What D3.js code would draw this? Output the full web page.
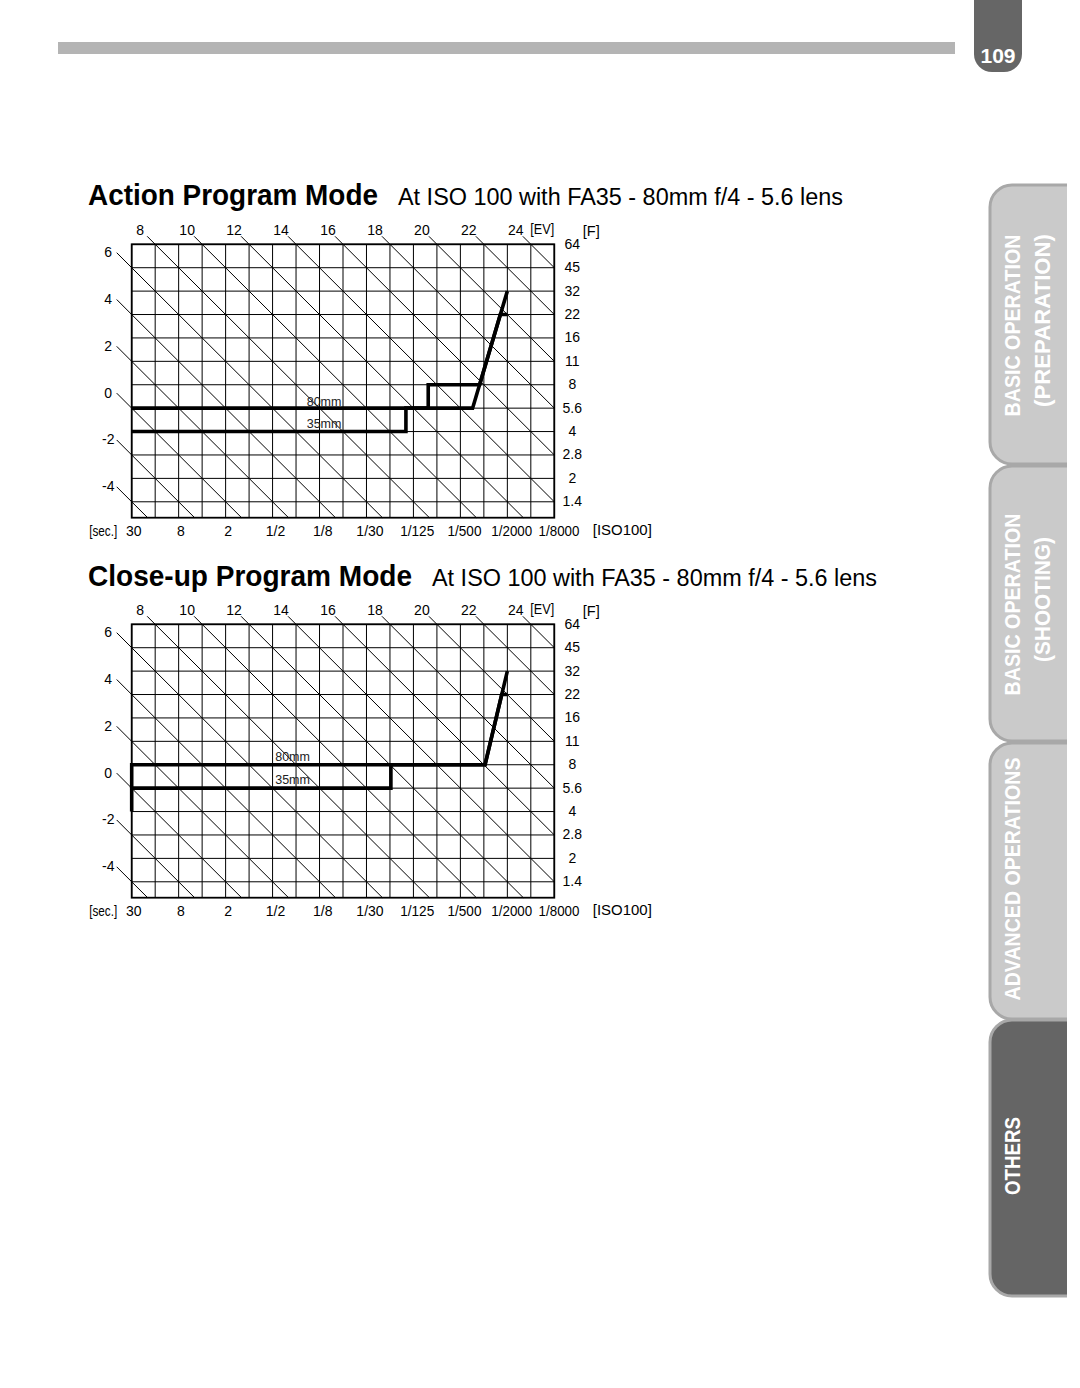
<!DOCTYPE html>
<html>
<head>
<meta charset="utf-8">
<script src="https://cdn.jsdelivr.net/npm/d3@7/dist/d3.min.js"></script>
<style>
  body { margin: 0; background: #fff; }
  svg { display: block; }
</style>
</head>
<body>
<div id="container"></div>
<script>
/* Page */
const pageW = 1080, pageH = 1388;
const fontPolice = "Liberation Sans, Arial, Helvetica, sans-serif";

/* EV labels on the top and left edges, and the EV diagonals that are drawn */
const evTopTicks = [8, 10, 12, 14, 16, 18, 20, 22, 24];
const evLeftTicks = [6, 4, 2, 0, -2, -4];
const evLines = [-4, -2, 0, 2, 4, 6, 8, 10, 12, 14, 16, 18, 20, 22, 24];

/* Aperture (Av) rows and their f-numbers */
const avValues = [12, 11, 10, 9, 8, 7, 6, 5, 4, 3, 2, 1];
const fLabels = ["64", "45", "32", "22", "16", "11", "8", "5.6", "4", "2.8", "2", "1.4"];

/* Shutter speed (Tv) columns and their labels */
const tvGrid = [-5, -4, -3, -2, -1, 0, 1, 2, 3, 4, 5, 6, 7, 8, 9, 10, 11, 12, 13];
const tvValues = [-5, -3, -1, 1, 3, 5, 7, 9, 11, 13];
const secLabels = ["30", "8", "2", "1/2", "1/8", "1/30", "1/125", "1/500", "1/2000", "1/8000"];

/* Program lines, points as [Tv, Av] */
const action80 = [[-5, 5], [9.52, 5], [11, 10]];
const action35 = [[-5, 4], [6.68, 4], [6.68, 5], [7.63, 5], [7.63, 6], [9.82, 6], [10.7, 9], [11, 9]];
const closeup80 = [[-5, 5], [-5, 6], [10.05, 6], [11, 10]];
const closeup35 = [[-5, 4], [-5, 5], [6.04, 5], [6.04, 6], [10.05, 6], [10.76, 9], [11, 9]];

/* Side tabs */
const tabNames = [["BASIC OPERATION", "(PREPARATION)"], ["BASIC OPERATION", "(SHOOTING)"], ["ADVANCED OPERATIONS"], ["OTHERS"]];

/* Chart geometry */
const gridLeft = 131.7, gridW = 422.6, gridH = 273.4;
const avBottom = 0.32;

const x = d3.scaleLinear().domain([-5, 13]).range([0, gridW]);
const y = d3.scaleLinear().domain([12, avBottom]).range([0, gridH]);

const svg = d3.select("#container").append("svg")
	.attr("width", pageW)
	.attr("height", pageH)
	.style("font-family", fontPolice);

/* Top grey bar */
svg.append("rect")
	.attr("x", 58).attr("y", 42).attr("width", 897).attr("height", 12)
	.attr("fill", "#b4b4b4");

/* Page number tab */
svg.append("path")
	.attr("d", "M974,0 V54 A18,18 0 0 0 992,72 H1004 A18,18 0 0 0 1022,54 V0 Z")
	.attr("fill", "#666");
svg.append("text")
	.attr("x", 998).attr("y", 63)
	.attr("text-anchor", "middle")
	.style("font-size", "21px").style("font-weight", "bold")
	.attr("fill", "#fff")
	.text("109");

/* Side tabs */
const tabBounds = [[185, 464], [466, 741], [743, 1019], [1020, 1296]];
function tabPath(x0, y0, x1, y1, r, closed) {
	let p = "M" + x1 + "," + y0 + " H" + (x0 + r) +
		" A" + r + "," + r + " 0 0 0 " + x0 + "," + (y0 + r) +
		" V" + (y1 - r) +
		" A" + r + "," + r + " 0 0 0 " + (x0 + r) + "," + y1 +
		" H" + x1;
	return closed ? p + " Z" : p;
}
tabBounds.forEach(function(b, i) {
	const dark = i == 3;
	svg.append("path")
		.attr("d", tabPath(990, b[0], 1067, b[1], 22, true))
		.attr("fill", dark ? "#656565" : "#cacaca");
	svg.append("path")
		.attr("d", tabPath(990, b[0], 1067, b[1], 22, false))
		.attr("fill", "none")
		.attr("stroke", "#a8a8a8")
		.attr("stroke-width", 3);
	const cy = (b[0] + b[1]) / 2;
	const names = tabNames[i];
	if (names.length == 2) {
		svg.append("text")
			.attr("transform", "translate(1020," + (cy + 1) + ") rotate(-90)")
			.attr("text-anchor", "middle")
			.attr("textLength", 182).attr("lengthAdjust", "spacingAndGlyphs")
			.style("font-size", "22px").style("font-weight", "bold")
			.attr("fill", "#fff")
			.text(names[0]);
		svg.append("text")
			.attr("transform", "translate(1050," + (cy - 4) + ") rotate(-90)")
			.attr("text-anchor", "middle")
			.attr("textLength", i == 0 ? 173 : 125).attr("lengthAdjust", "spacingAndGlyphs")
			.style("font-size", "22px").style("font-weight", "bold")
			.attr("fill", "#fff")
			.text(names[1]);
	} else {
		svg.append("text")
			.attr("transform", "translate(1020," + (i == 2 ? 879 : 1156) + ") rotate(-90)")
			.attr("text-anchor", "middle")
			.attr("textLength", i == 2 ? 243 : 78).attr("lengthAdjust", "spacingAndGlyphs")
			.style("font-size", "22px").style("font-weight", "bold")
			.attr("fill", "#fff")
			.text(names[0]);
	}
});

/* Titles */
function drawTitle(ty, bold, boldLen, rest, restX, restLen) {
	svg.append("text")
		.attr("x", 88).attr("y", ty)
		.attr("textLength", boldLen).attr("lengthAdjust", "spacingAndGlyphs")
		.style("font-size", "30px").style("font-weight", "bold")
		.attr("fill", "#000")
		.text(bold);
	svg.append("text")
		.attr("x", restX).attr("y", ty)
		.attr("textLength", restLen).attr("lengthAdjust", "spacingAndGlyphs")
		.style("font-size", "23px")
		.attr("fill", "#000")
		.text(rest);
}
drawTitle(205, "Action Program Mode", 290, "At ISO 100 with FA35 - 80mm f/4 - 5.6 lens", 398, 445);
drawTitle(586, "Close-up Program Mode", 324, "At ISO 100 with FA35 - 80mm f/4 - 5.6 lens", 432, 445);

/**
 * Draws one program chart with its top-left grid corner at (gridLeft, top)
**/
function drawChart(top, line80, line35, lab80, lab35) {
	const g = svg.append("g").attr("transform", "translate(" + gridLeft + "," + top + ")");

	/* Grid */
	g.selectAll("line.v").data(tvGrid).enter().append("line")
		.attr("x1", d => x(d)).attr("x2", d => x(d))
		.attr("y1", 0).attr("y2", gridH)
		.attr("stroke", "#000").attr("stroke-width", 1);
	g.selectAll("line.h").data(avValues).enter().append("line")
		.attr("x1", 0).attr("x2", gridW)
		.attr("y1", d => y(d)).attr("y2", d => y(d))
		.attr("stroke", "#000").attr("stroke-width", 1);

	/* EV diagonals (Av + Tv = EV), clipped to the grid */
	g.selectAll("line.ev").data(evLines).enter().append("line")
		.attr("x1", d => x(Math.max(-5, d - 12)))
		.attr("y1", d => y(d - Math.max(-5, d - 12)))
		.attr("x2", d => x(Math.min(13, d - avBottom)))
		.attr("y2", d => y(d - Math.min(13, d - avBottom)))
		.attr("stroke", "#000").attr("stroke-width", 1);

	/* Top EV ticks and labels */
	g.selectAll("line.tt").data(evTopTicks).enter().append("line")
		.attr("x1", d => x(d - 12) - 8).attr("y1", -8)
		.attr("x2", d => x(d - 12)).attr("y2", 0)
		.attr("stroke", "#000").attr("stroke-width", 1);
	g.selectAll("text.tt").data(evTopTicks).enter().append("text")
		.attr("x", d => x(d - 12) - 15).attr("y", -9.5)
		.attr("text-anchor", "middle")
		.style("font-size", "14px")
		.text(d => d);
	g.append("text").attr("x", 398.5).attr("y", -10.5)
		.attr("textLength", 24).attr("lengthAdjust", "spacingAndGlyphs")
		.style("font-size", "14px").text("[EV]");

	/* Left EV ticks and labels */
	g.selectAll("line.lt").data(evLeftTicks).enter().append("line")
		.attr("x1", -15).attr("y1", d => y(d + 5) - 15)
		.attr("x2", 0).attr("y2", d => y(d + 5))
		.attr("stroke", "#000").attr("stroke-width", 1);
	g.selectAll("text.lt").data(evLeftTicks).enter().append("text")
		.attr("x", -23.5).attr("y", d => y(d + 5) - 10.5)
		.attr("text-anchor", "middle")
		.style("font-size", "14px")
		.text(d => d);

	/* Right f-number labels */
	g.selectAll("text.f").data(avValues).enter().append("text")
		.attr("x", gridW + 18).attr("y", d => y(d) + 4.5)
		.attr("text-anchor", "middle")
		.style("font-size", "14px")
		.text((d, i) => fLabels[i]);
	g.append("text").attr("x", gridW + 28.5).attr("y", -8)
		.attr("textLength", 17).attr("lengthAdjust", "spacingAndGlyphs")
		.style("font-size", "14px").text("[F]");

	/* Bottom shutter speed labels */
	g.selectAll("text.s").data(tvValues).enter().append("text")
		.attr("x", (d, i) => x(d) + 2 + i * 0.3).attr("y", gridH + 18.5)
		.attr("text-anchor", "middle")
		.attr("textLength", (d, i) => secLabels[i].length > 4 ? secLabels[i].length * 6.8 : null)
		.attr("lengthAdjust", "spacingAndGlyphs")
		.style("font-size", "14px")
		.text((d, i) => secLabels[i]);
	g.append("text").attr("x", -42.5).attr("y", gridH + 18)
		.attr("textLength", 28).attr("lengthAdjust", "spacingAndGlyphs")
		.style("font-size", "14px").text("[sec.]");
	g.append("text").attr("x", gridW + 38.5).attr("y", gridH + 17.5)
		.attr("textLength", 59).attr("lengthAdjust", "spacingAndGlyphs")
		.style("font-size", "14px").text("[ISO100]");

	/* Focal length labels */
	g.append("text").attr("x", lab80[0]).attr("y", lab80[1])
		.style("font-size", "12.5px").attr("fill", "#222").text("80mm");
	g.append("text").attr("x", lab35[0]).attr("y", lab35[1])
		.style("font-size", "12.5px").attr("fill", "#222").text("35mm");

	/* Frame */
	g.append("rect")
		.attr("x", 0).attr("y", 0).attr("width", gridW).attr("height", gridH)
		.attr("fill", "none").attr("stroke", "#000").attr("stroke-width", 1.8);

	/* Program lines */
	const line = d3.line().x(d => x(d[0])).y(d => y(d[1]));
	[line80, line35].forEach(function(pts) {
		g.append("path")
			.attr("d", line(pts))
			.attr("fill", "none")
			.attr("stroke", "#000")
			.attr("stroke-width", 3.6)
			.attr("stroke-linejoin", "miter")
			.attr("stroke-linecap", "butt");
	});
}

drawChart(244.3, action80, action35, [175, 161.5], [175, 183.5]);
drawChart(624.3, closeup80, closeup35, [143.5, 136.5], [143.5, 160]);
</script>
</body>
</html>
